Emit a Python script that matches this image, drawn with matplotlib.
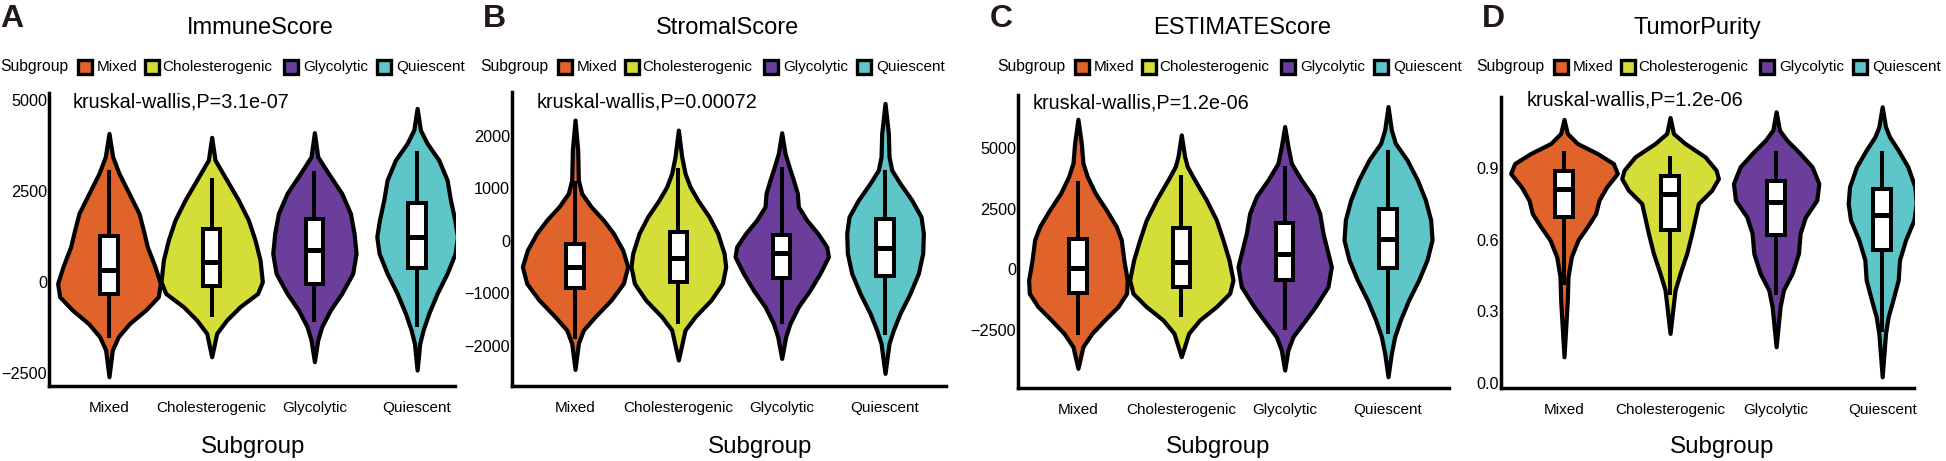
import matplotlib
matplotlib.use("Agg")
import matplotlib.pyplot as plt
import numpy as np
from matplotlib.patches import Rectangle
from matplotlib.ticker import FormatStrFormatter

plt.rcParams['font.family'] = ['Liberation Sans', 'DejaVu Sans']

W, H = 1946, 461

groups = ["Mixed", "Cholesterogenic", "Glycolytic", "Quiescent"]
colors = ["#E0632B", "#D5DE38", "#6A3E9A", "#5EC5C8"]
titles = ["ImmuneScore", "StromalScore", "ESTIMATEScore", "TumorPurity"]
letters = ["A", "B", "C", "D"]
pvals = ["3.1e-07", "0.00072", "1.2e-06", "1.2e-06"]

# ---------------- violin density profiles (y level, relative density) ----------------
immune_y = [
    [4075, 3434, 2976, 2427, 1877, 1419, 962, 412, -46, -412, -778, -1145, -1511, -1877, -2610],
    [3965, 3343, 2793, 2244, 1694, 1145, 595, 0, -321, -687, -1053, -1419, -2061],
    [4094, 3434, 2976, 2427, 1877, 1328, 778, 229, -321, -778, -1236, -1603, -2198],
    [4762, 4167, 3801, 3343, 2793, 2244, 1694, 1236, 778, 229, -321, -870, -1328, -1694, -2427],
]
immune_d = [
    [0, 11, 30, 60, 90, 103, 115, 138, 154, 148, 110, 62, 28, 10, 0],
    [0, 10, 45, 80, 110, 130, 145, 152, 138, 85, 45, 15, 0],
    [0, 10, 42, 82, 108, 119, 125, 115, 82, 48, 22, 10, 0],
    [0, 10, 30, 65, 90, 100, 113, 121, 114, 90, 60, 35, 18, 8, 0],
]
stromal_y = [
    [2299, 1727, 1156, 902, 648, 394, 140, -178, -495, -813, -1130, -1448, -1702, -1956, -2451],
    [2108, 1600, 1283, 1029, 775, 457, 140, -241, -495, -813, -1130, -1448, -1702, -2273],
    [2057, 1664, 1410, 1156, 902, 648, 394, 140, -114, -305, -622, -940, -1257, -1575, -1829, -2242],
    [2616, 2045, 1600, 1346, 1092, 775, 457, 140, -241, -622, -1003, -1384, -1702, -1956, -2527],
]
stromal_d = [
    [0, 8, 10, 20, 48, 85, 115, 143, 158, 145, 108, 60, 25, 10, 0],
    [0, 10, 20, 35, 58, 92, 118, 137, 142, 132, 98, 50, 20, 0],
    [0, 10, 22, 35, 47, 50, 75, 108, 135, 140, 115, 85, 50, 25, 12, 0],
    [0, 10, 12, 20, 45, 80, 108, 115, 113, 100, 75, 45, 25, 12, 0],
]
estimate_y = [
    [6183, 5194, 4369, 3820, 3133, 2446, 1759, 1209, 344, -440, -989, -1539, -2088, -2638, -3188, -4081],
    [5537, 4644, 4232, 3682, 2858, 2034, 1209, 385, -440, -989, -1539, -2088, -2638, -3600],
    [5881, 5056, 4369, 3682, 2995, 2308, 1484, 660, 110, -714, -1539, -2226, -2775, -3325, -4149],
    [6705, 5743, 5194, 4507, 3682, 2858, 2034, 1209, 385, -440, -1264, -2088, -2775, -3462, -4424],
]
estimate_d = [
    [0, 10, 15, 28, 52, 85, 115, 130, 138, 148, 146, 120, 80, 42, 15, 0],
    [0, 10, 18, 40, 75, 105, 125, 143, 155, 145, 105, 55, 22, 0],
    [0, 10, 20, 50, 85, 105, 115, 130, 140, 130, 92, 55, 25, 10, 0],
    [0, 10, 22, 57, 88, 112, 128, 132, 117, 92, 62, 37, 20, 10, 0],
]
purity_y = [
    [1.105, 1.046, 1.004, 0.962, 0.920, 0.878, 0.822, 0.766, 0.710, 0.655, 0.599, 0.529, 0.445, 0.347, 0.109],
    [1.113, 1.046, 1.004, 0.948, 0.892, 0.857, 0.808, 0.752, 0.696, 0.627, 0.543, 0.459, 0.389, 0.305, 0.207],
    [1.137, 1.060, 1.018, 0.962, 0.906, 0.836, 0.766, 0.696, 0.627, 0.543, 0.459, 0.389, 0.319, 0.151],
    [1.158, 1.074, 1.032, 0.976, 0.906, 0.822, 0.752, 0.683, 0.599, 0.515, 0.431, 0.347, 0.277, 0.207, 0.025],
]
purity_d = [
    [0, 10, 40, 100, 148, 160, 128, 105, 95, 70, 42, 22, 12, 10, 0],
    [0, 10, 45, 105, 138, 145, 125, 85, 76, 65, 50, 30, 15, 8, 0],
    [0, 10, 32, 72, 108, 128, 122, 88, 72, 67, 48, 22, 12, 0],
    [0, 10, 22, 48, 77, 98, 102, 95, 70, 52, 48, 32, 18, 10, 0],
]

# ---------------- box statistics: q1, median, q3, whisker low, whisker high ----------------
immune_q1 = [-339, -119, -64, 366]
immune_med = [320, 531, 870, 1218]
immune_q3 = [1255, 1438, 1713, 2152]
immune_lo = [-1480, -916, -1053, -1190]
immune_hi = [3022, 2793, 2976, 3544]

stromal_q1 = [-895, -781, -718, -667]
stromal_med = [-495, -324, -241, -146]
stromal_q3 = [-70, 159, 108, 406]
stromal_lo = [-1830, -1543, -1543, -1765]
stromal_hi = [1100, 1346, 1359, 1314]

estimate_q1 = [-989, -714, -440, 69]
estimate_med = [41, 289, 618, 1250]
estimate_q3 = [1237, 1690, 1924, 2473]
estimate_lo = [-2611, -1882, -2432, -2569]
estimate_hi = [3572, 3820, 4163, 4850]

purity_q1 = [0.694, 0.641, 0.620, 0.557]
purity_med = [0.815, 0.792, 0.759, 0.703]
purity_q3 = [0.890, 0.867, 0.848, 0.811]
purity_lo = [0.42, 0.375, 0.375, 0.221]
purity_hi = [0.965, 0.941, 0.962, 0.965]

yticks_list = [[-2500, 0, 2500, 5000], [-2000, -1000, 0, 1000, 2000],
               [-2500, 0, 2500, 5000], [0.0, 0.3, 0.6, 0.9, 1.2]]

panels = [
    (immune_y, immune_d, immune_q1, immune_med, immune_q3, immune_lo, immune_hi),
    (stromal_y, stromal_d, stromal_q1, stromal_med, stromal_q3, stromal_lo, stromal_hi),
    (estimate_y, estimate_d, estimate_q1, estimate_med, estimate_q3, estimate_lo, estimate_hi),
    (purity_y, purity_d, purity_q1, purity_med, purity_q3, purity_lo, purity_hi),
]

# layout (pixels)
ax_boxes = [(49, 455, 93, 386), (512, 946, 92, 386), (1018, 1449, 95, 388), (1501, 1914, 97, 388)]
xlims = [(0.416, 4.369), (0.39, 4.59), (0.42, 4.59), (0.406, 4.30)]
ylims = [(-2865, 5184), (-2768, 2833), (-4890, 7181), (-0.022, 1.199)]
title_pos = [(260, 28), (728, 28), (1242, 28), (1697, 28)]
letter_pos = [(0, 19), (483, 19), (990, 19), (1482, 19)]
kw_pos = [(73, 102), (537, 102), (1033, 103), (1527, 100)]
legend_x = [0, 480, 997, 1476]
xlabel_pos = [(253, 447), (760, 447), (1218, 447), (1722, 447)]

fig = plt.figure(figsize=(W / 100, H / 100), dpi=100)


def fx(x):
    return x / W


def fy(y):
    return 1 - y / H


positions = np.arange(1, len(groups) + 1)

for i, (vy, vd, q1, med, q3, lo, hi) in enumerate(panels):
    l, r, t, b = ax_boxes[i]
    ax = fig.add_axes([fx(l), fy(b), (r - l) / W, (b - t) / H])
    ax.set_xlim(*xlims[i])
    ax.set_ylim(*ylims[i])
    px_per_unit = (r - l) / (xlims[i][1] - xlims[i][0])

    vpstats = []
    widths = []
    for g in range(len(groups)):
        ys = np.array(vy[g], dtype=float)
        ds = np.array(vd[g], dtype=float)
        vpstats.append(dict(coords=ys, vals=ds, mean=med[g], median=med[g],
                            min=ys.min(), max=ys.max()))
        widths.append(2 * ds.max() / 3 / px_per_unit)
    parts = ax.violin(vpstats, positions=positions, widths=widths,
                      showextrema=False, showmedians=False, showmeans=False)
    for body, c in zip(parts['bodies'], colors):
        body.set_facecolor(c)
        body.set_edgecolor('black')
        body.set_linewidth(3.0)
        body.set_alpha(1)
        body.set_joinstyle('round')
        body.set_zorder(2)

    bstats = [dict(q1=q1[g], med=med[g], q3=q3[g], whislo=lo[g], whishi=hi[g], fliers=[])
              for g in range(len(groups))]
    ax.bxp(bstats, positions=positions, widths=0.17, patch_artist=True,
           showfliers=False, showcaps=False,
           boxprops=dict(facecolor='white', edgecolor='black', linewidth=2.9),
           medianprops=dict(color='black', linewidth=3.6, solid_capstyle='butt'),
           whiskerprops=dict(color='black', linewidth=2.9),
           zorder=3)

    for s in ['top', 'right']:
        ax.spines[s].set_visible(False)
    for s in ['left', 'bottom']:
        ax.spines[s].set_linewidth(2.5)
        ax.spines[s].set_color('black')
    ax.set_xticks(positions)
    ax.set_xticklabels(groups, fontsize=11)
    ax.set_yticks(yticks_list[i])
    if i == 3:
        ax.yaxis.set_major_formatter(FormatStrFormatter('%.1f'))
    ax.tick_params(axis='x', length=0, pad=11)
    ax.tick_params(axis='y', length=0, pad=1.5, labelsize=11.7)
    ax.set_xlim(*xlims[i])
    ax.set_ylim(*ylims[i])

    # texts
    fig.text(fx(title_pos[i][0]), fy(title_pos[i][1]), titles[i], fontsize=17,
             ha='center', va='center')
    fig.text(fx(letter_pos[i][0]), fy(letter_pos[i][1]), letters[i], fontsize=23,
             fontweight='heavy', color='#231815', ha='left', va='center')
    fig.text(fx(kw_pos[i][0]), fy(kw_pos[i][1]), "kruskal-wallis,P=" + pvals[i],
             fontsize=14.3, ha='left', va='center')
    fig.text(fx(xlabel_pos[i][0]), fy(xlabel_pos[i][1]), "Subgroup", fontsize=17.4,
             ha='center', va='center')

    # legend row
    x0 = legend_x[i]
    ly = 67
    fig.text(fx(x0), fy(ly), "Subgroup", fontsize=11.3, ha='left', va='center')
    sq_off = [76, 143, 282, 375]
    lab_off = [97, 162, 303, 396]
    for g in range(len(groups)):
        sx = x0 + sq_off[g] + 1.5
        rect = Rectangle((fx(sx), fy(ly + 7)), 14 / W, 14 / H, transform=fig.transFigure,
                         facecolor=colors[g], edgecolor='black', linewidth=2.4)
        fig.add_artist(rect)
        fig.text(fx(x0 + lab_off[g]), fy(ly), groups[g], fontsize=11,
                 ha='left', va='center')

fig.savefig("out.png", dpi=100)
